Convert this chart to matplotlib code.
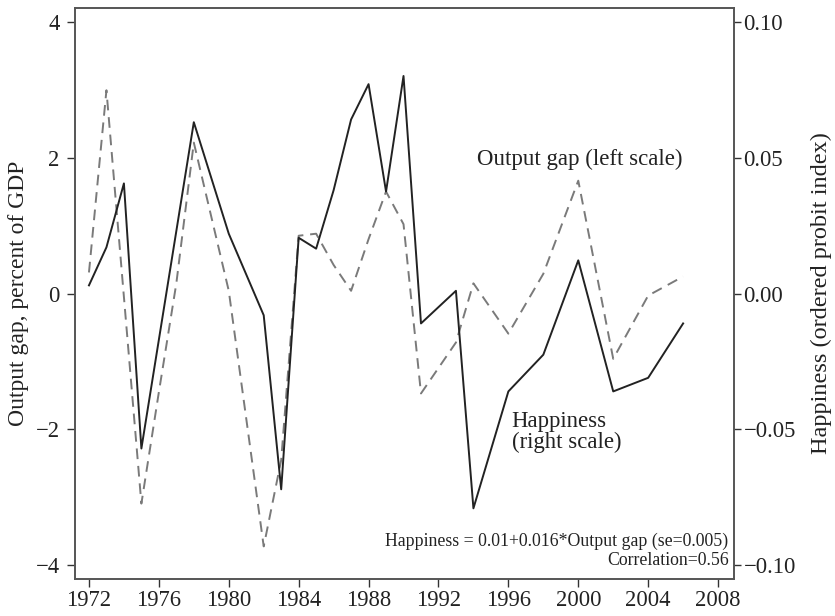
import matplotlib
matplotlib.use("Agg")
import matplotlib.pyplot as plt

plt.rcParams["font.family"] = ["Liberation Serif", "DejaVu Serif"]

# 年份（两条曲线共用）
years = [1972, 1973, 1974, 1975, 1976, 1977, 1978, 1980, 1982, 1983, 1984, 1985,
         1986, 1987, 1988, 1989, 1990, 1991, 1993, 1994, 1996, 1998, 2000, 2002,
         2004, 2006]

# 产出缺口（左轴，% of GDP）
output_gap = [0.31, 2.99, -0.05, -3.09, -1.45, 0.15, 2.22, 0.04, -3.72, -2.45, 0.85, 0.88,
              0.42, 0.04, 0.80, 1.50, 1.02, -1.47, -0.72, 0.15, -0.59, 0.29, 1.66, -0.96,
              -0.03, 0.25]

# 幸福指数（右轴）
happiness = [0.003, 0.017, 0.0405, -0.057, -0.017, 0.023, 0.063, 0.022, -0.008, -0.072,
             0.0205, 0.0165, 0.038, 0.064, 0.077, 0.0375, 0.080, -0.011, 0.001, -0.079,
             -0.036, -0.0225, 0.0122, -0.036, -0.031, -0.011]

x_ticks = list(range(1972, 2009, 4))
left_ticks = [-4, -2, 0, 2, 4]
right_ticks = [-0.10, -0.05, 0.00, 0.05, 0.10]

fig = plt.figure(figsize=(8.35, 6.16), dpi=100)
ax = fig.add_axes([0.0898, 0.060, 0.789, 0.927])
ax2 = ax.twinx()

ax.plot(years, output_gap, color="#7a7a7a", linewidth=1.4, linestyle=(0, (5.5, 3.5)))
ax2.plot(years, happiness, color="#222222", linewidth=1.4)

ax.set_xlim(1971.2, 2008.9)
ax.set_ylim(-4.2, 4.2)
ax2.set_ylim(-0.105, 0.105)

ax.set_xticks(x_ticks)
ax.set_yticks(left_ticks)
ax.set_yticklabels(["\u22124", "\u22122", "0", "2", "4"])
ax2.set_yticks(right_ticks)
ax2.set_yticklabels(["\u22120.10", "\u22120.05", "0.00", "0.05", "0.10"])

for a in (ax, ax2):
    a.tick_params(direction="out", length=6, width=1, colors="#333333",
                  labelcolor="#222222", labelsize=16.3)
    for s in a.spines.values():
        s.set_color("#555555")
        s.set_linewidth(1.2)
ax.tick_params(axis="y", pad=5)
ax.tick_params(axis="x", pad=2)
ax2.tick_params(axis="y", length=5, pad=2)

ax.set_ylabel("Output gap, percent of GDP", fontsize=17, color="#222222", labelpad=5)
ax2.set_ylabel("Happiness (ordered probit index)", fontsize=17.5, color="#222222", labelpad=11)

ax.text(0.766, 0.734, "Output gap (left scale)", transform=ax.transAxes,
        ha="center", va="center", fontsize=16.5, color="#222222")
ax.text(0.663, 0.257, "Happiness\n(right scale)", transform=ax.transAxes,
        ha="left", va="center", fontsize=16.4, color="#222222", linespacing=1.0)
ax.text(0.992, 0.066, "Happiness = 0.01+0.016*Output gap (se=0.005)", transform=ax.transAxes,
        ha="right", va="center", fontsize=12.8, color="#222222")
ax.text(0.992, 0.032, "Correlation=0.56", transform=ax.transAxes,
        ha="right", va="center", fontsize=12.8, color="#222222")

fig.savefig("out.png", dpi=100)
